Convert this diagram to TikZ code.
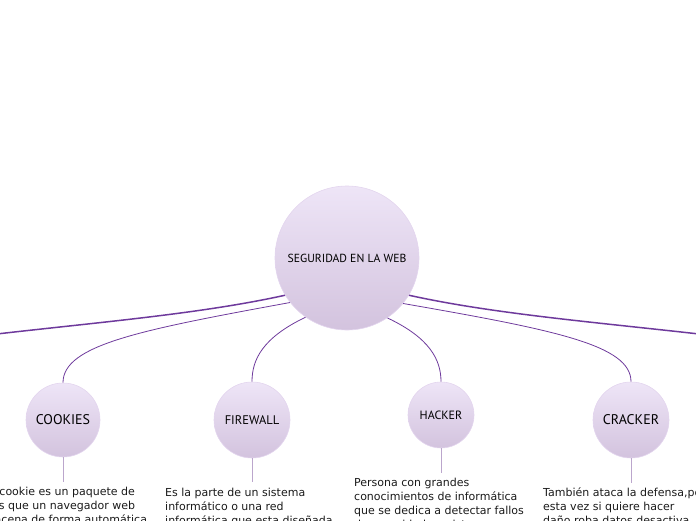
\documentclass[tikz,border=0pt]{standalone}
\usepackage{fontspec}
\setmainfont{DejaVu Sans}
\newfontfamily\labelfont{PT Sans}
\begin{document}
\begin{tikzpicture}[x=1pt,y=-1pt,
  bubble/.style={circle,draw=bubbleedge,line width=0.6pt,top color=bubbletop,bottom color=bubblebot,inner sep=0pt,font=\labelfont,text=black},
  mainlink/.style={draw=linkpurple,line width=1.5pt},
  sublink/.style={draw=linkpurple,line width=0.8pt},
  stem/.style={draw=stemcol,line width=0.7pt},
  desc/.style={anchor=base west,inner sep=0pt,font=\fontsize{11}{14}\selectfont,text=textcol,align=left}]
\definecolor{bubbleedge}{HTML}{E3D5EE}
\definecolor{bubbletop}{HTML}{EEE5F7}
\definecolor{bubblebot}{HTML}{D3C3DE}
\definecolor{linkpurple}{HTML}{6E3A9C}
\definecolor{stemcol}{HTML}{BBA6CC}
\definecolor{textcol}{HTML}{1A1A1A}
\useasboundingbox (0,0) rectangle (696,520);
\clip (0,0) rectangle (696,520);
\node[bubble,minimum size=144pt,font=\labelfont\fontsize{11.7}{12}\selectfont] (c) at (347,258) {SEGURIDAD EN LA WEB};
\node[bubble,minimum size=74pt,font=\labelfont\fontsize{14}{14}\selectfont] (ck) at (63,420) {COOKIES};
\node[bubble,minimum size=76pt,font=\labelfont\fontsize{12.5}{14}\selectfont] (fw) at (252,420) {FIREWALL};
\node[bubble,minimum size=66pt,font=\labelfont\fontsize{12}{14}\selectfont] (hk) at (441,415) {HACKER};
\node[bubble,minimum size=76pt,font=\labelfont\fontsize{14}{14}\selectfont] (cr) at (631,420) {CRACKER};
\coordinate (offl) at (-12,335);
\coordinate (offr) at (708,335);
\draw[mainlink] (c.211) .. controls (200,314) and (100,322) .. (offl);
\draw[mainlink] (c.329) .. controls (494,314) and (594,322) .. (offr);
\draw[sublink] (c.218) .. controls (140,330) and (63,345) .. (ck.north);
\draw[sublink] (c.235) .. controls (262,338) and (252,360) .. (fw.north);
\draw[sublink] (c.304) .. controls (430,338) and (441,360) .. (hk.north);
\draw[sublink] (c.321) .. controls (555,330) and (631,345) .. (cr.north);
\coordinate (ckt) at (63,482);
\coordinate (fwt) at (252,482);
\coordinate (hkt) at (441,473);
\coordinate (crt) at (631,483);
\draw[stem] (ck.south) -- (ckt);
\draw[stem] (fw.south) -- (fwt);
\draw[stem] (hk.south) -- (hkt);
\draw[stem] (cr.south) -- (crt);
\node[desc] (ckx) at (-26,523) {Una cookie es un paquete de\\datos que un navegador web\\almacena de forma automática};
\node[desc] (fwx) at (165,524) {Es la parte de un sistema\\informático o una red\\informática que esta diseñada};
\node[desc] (hkx) at (354,528) {Persona con grandes\\conocimientos de informática\\que se dedica a detectar fallos\\de seguridad en sistemas};
\node[desc] (crx) at (543,524) {También ataca la defensa,pero\\esta vez si quiere hacer\\daño roba datos desactiva};
\end{tikzpicture}
\end{document}
